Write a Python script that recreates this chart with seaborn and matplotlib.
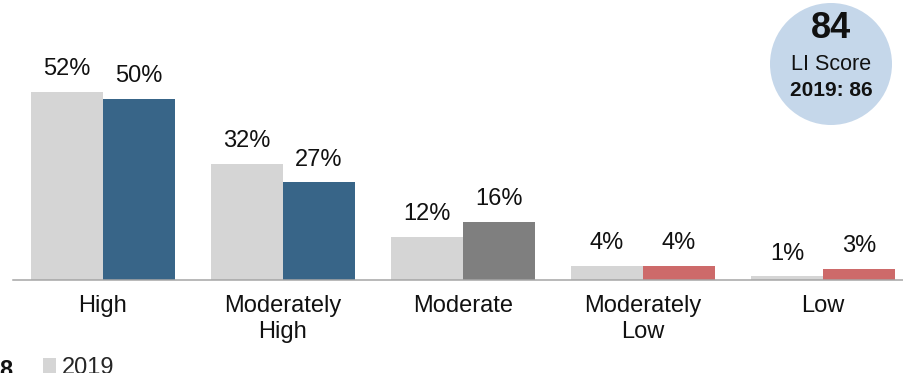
import pandas as pd
import numpy as np
import matplotlib
matplotlib.use("Agg")
import matplotlib.pyplot as plt
from matplotlib.patches import Circle
import seaborn as sns

# -------------------------------
# Data
# -------------------------------
categories = ["High", "Moderately\nHigh", "Moderate", "Moderately\nLow", "Low"]
years = ["2019", "2020"]
values_2019 = [52, 32, 12, 4, 1]
values_2020 = [50, 27, 16, 4, 3]
colors_2020 = ["#386588", "#386588", "#7F7F7F", "#CD6A6A", "#CD6A6A"]
color_2019 = "#D5D5D5"
score_now = "84"
score_label = "LI Score"
score_prev = "2019: 86"

df = pd.DataFrame({
    "Category": categories * 2,
    "Year": [years[0]] * len(categories) + [years[1]] * len(categories),
    "Value": values_2019 + values_2020,
})

# -------------------------------
# Plot
# -------------------------------
sns.set_style("white")
plt.rcParams["font.family"] = ["Liberation Sans", "DejaVu Sans"]

fig = plt.figure(figsize=(9.04, 3.73), dpi=100)
ax = fig.add_axes([13 / 904, 93 / 373, 900 / 904, 217 / 373])

sns.barplot(
    data=df, x="Category", y="Value", hue="Year",
    palette={years[0]: color_2019, years[1]: colors_2020[0]},
    width=0.8, gap=0, saturation=1, ax=ax, legend=True,
    edgecolor="none", linewidth=0,
)

# per-bar colours for the 2020 series
for patch, c in zip(ax.containers[1], colors_2020):
    patch.set_facecolor(c)

# value labels
for cont in ax.containers:
    for patch in cont:
        h = patch.get_height()
        ax.annotate(f"{h:.0f}%", (patch.get_x() + patch.get_width() / 2, h),
                    xytext=(0, 8.5), textcoords="offset points",
                    ha="center", va="bottom", fontsize=17, color="#111111")

ax.set_xlim(-0.5, 4.5)
ax.set_ylim(0, 60)
ax.set_xlabel("")
ax.set_ylabel("")
ax.set_yticks([])
ax.tick_params(axis="x", length=0, pad=11, labelsize=17, colors="#111111")
for s in ["top", "left", "right"]:
    ax.spines[s].set_visible(False)
ax.spines["bottom"].set_color("#A6A6A6")
ax.spines["bottom"].set_linewidth(1.1)

# legend (second row falls off the bottom of the canvas)
handles, labels = ax.get_legend_handles_labels()
for h in handles:
    h.set_edgecolor("none")
ax.legend(handles, labels, loc="upper left", bbox_to_anchor=(31 / 904, 28 / 373),
          bbox_transform=fig.transFigure, frameon=False, fontsize=17,
          handlelength=0.55, handleheight=0.55, handletextpad=0.25,
          borderpad=0, labelspacing=0.3)

fig.text(12 / 904, 14 / 373, "8", ha="right", va="top", fontsize=17,
         fontweight="bold", color="#111111")

# score bubble
circ = Circle((8.31, 3.09), 0.61, transform=fig.dpi_scale_trans,
              facecolor="#C5D7EA", edgecolor="none")
fig.add_artist(circ)
fig.text(831 / 904, (373 - 29) / 373, score_now, ha="center", va="center",
         fontsize=26, fontweight="bold", color="#111111")
fig.text(831 / 904, (373 - 65) / 373, score_label, ha="center", va="center",
         fontsize=15.5, color="#111111")
fig.text(831 / 904, (373 - 90) / 373, score_prev, ha="center", va="center",
         fontsize=15, fontweight="bold", color="#111111")

fig.savefig("out.png", dpi=100)
